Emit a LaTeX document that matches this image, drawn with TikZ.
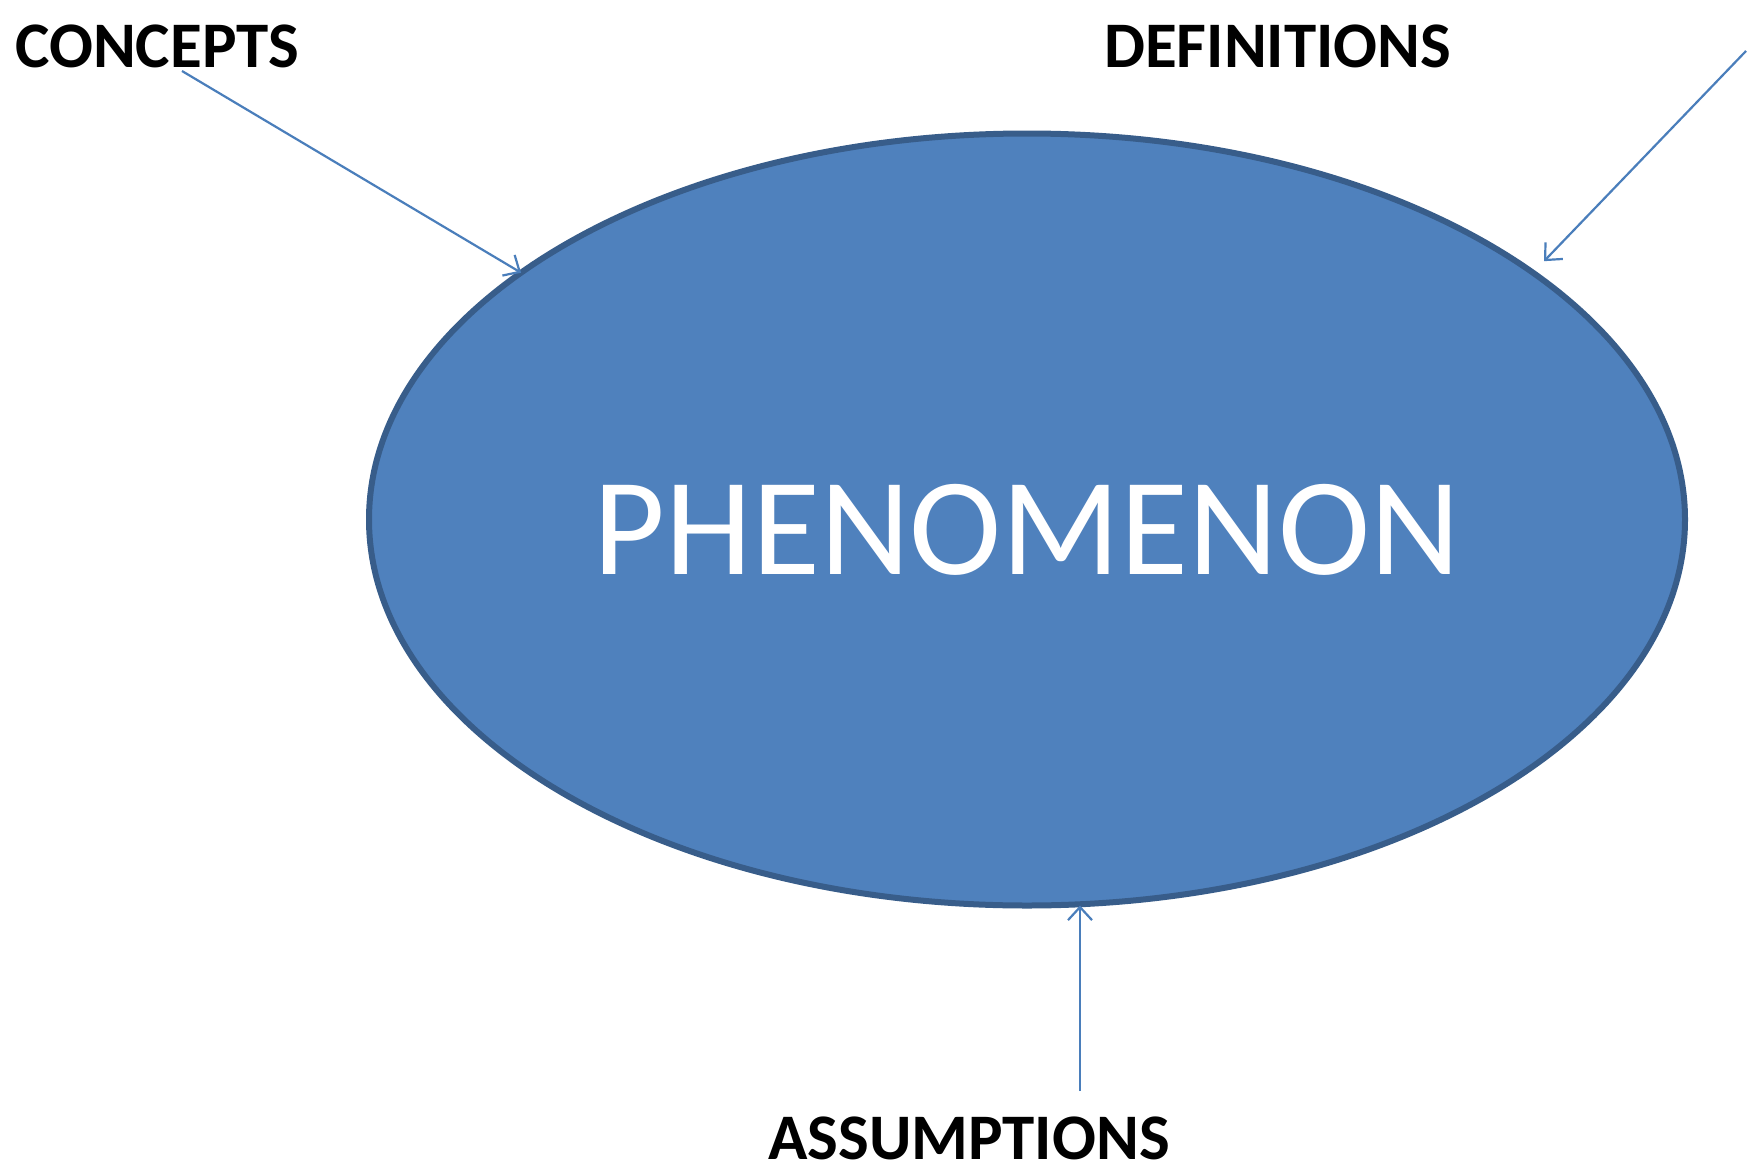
\documentclass[tikz,border=0pt]{standalone}
\usepackage{fontspec}
\setmainfont{Carlito}
\usetikzlibrary{shapes.geometric,arrows.meta}
\definecolor{phfill}{HTML}{4F81BD}
\definecolor{phedge}{HTML}{385D8A}
\definecolor{arrowblue}{HTML}{4A7EBB}
\tikzset{
  label text/.style={font=\fontsize{65}{70}\selectfont\bfseries, text=black, inner sep=0pt, anchor=base west},
  feed/.style={draw=arrowblue, line width=2.2pt, -{Straight Barb[length=13pt,width=24pt,line width=2.2pt]}},
}
\begin{document}
\begin{tikzpicture}[x=1pt,y=-1pt]
  \useasboundingbox (0,0) rectangle (1764,1175);
  \fill[white] (0,0) rectangle (1764,1175);

  % central ellipse and its caption
  \node[ellipse, draw=phedge, line width=6pt, fill=phfill,
        minimum width=1316pt, minimum height=772pt, inner sep=0pt, outer sep=0pt]
        (ph) at (1027,519.5) {};
  \node[font=\fontsize{139}{142}\selectfont, text=white, inner sep=0pt, anchor=base]
        (phtext) at (1027,574) {PHENOMENON};

  % surrounding labels
  \node[label text] (concepts) at (15,67) {CONCEPTS};
  \node[label text] (definitions) at (1104,67) {DEFINITIONS};
  \node[label text] (assumptions) at (768,1159) {ASSUMPTIONS};

  % free tails of the connectors
  \coordinate (cstart) at (182,71);
  \coordinate (dstart) at (1746,51);
  \coordinate (astart) at (1080,1091);

  \draw[feed] (cstart) -- (ph.154.7);
  \draw[feed, shorten >=16pt] (dstart) -- (ph.26.5);
  \draw[feed] (astart) -- (astart |- ph.south);
\end{tikzpicture}
\end{document}
